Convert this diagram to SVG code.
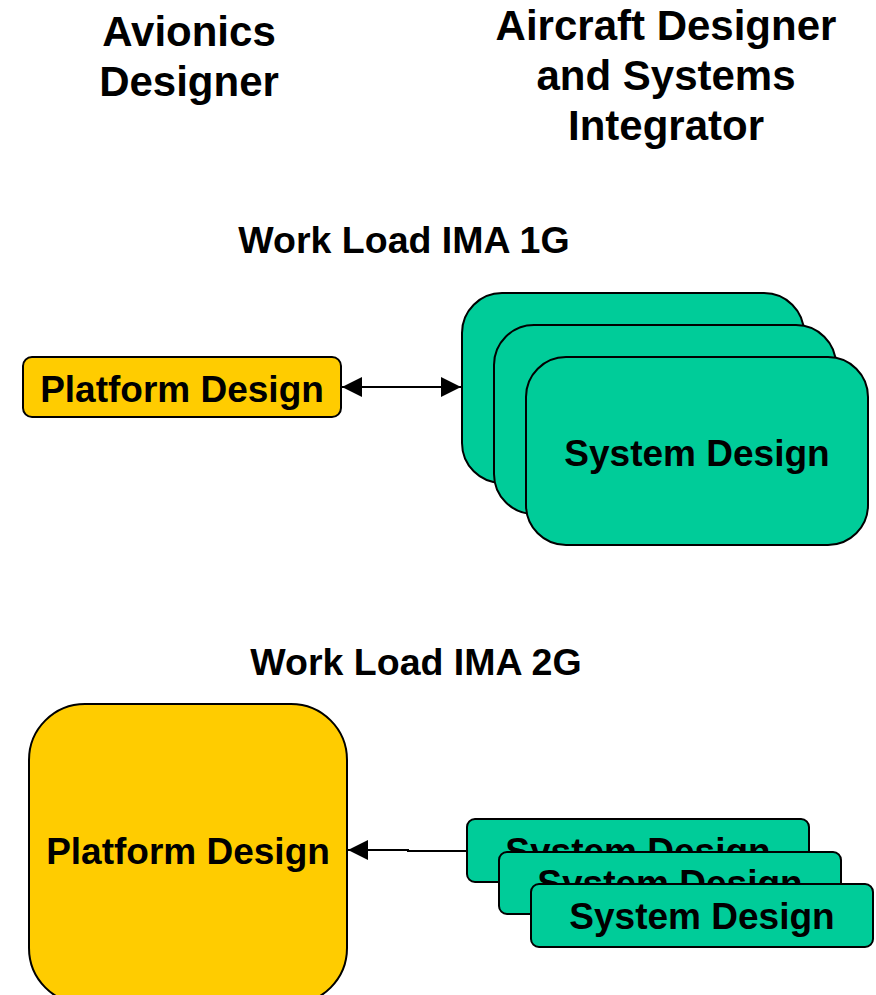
<svg xmlns="http://www.w3.org/2000/svg" width="876" height="995" viewBox="0 0 876 995">
<defs>
<style>
text{font-family:"Liberation Sans",Arial,sans-serif;font-weight:bold;fill:#000;text-anchor:middle}
.t{font-size:42px}
.w{font-size:37.5px}
.l{font-size:37px}
.y{fill:#FFCC00;stroke:#000;stroke-width:2}
.g{fill:#00CC99;stroke:#000;stroke-width:2}
.c{stroke:#000;stroke-width:2;fill:none}
</style>
<marker id="ah" viewBox="0 0 10 10" refX="10" refY="5" markerWidth="20" markerHeight="20" markerUnits="userSpaceOnUse" orient="auto-start-reverse">
<path d="M0,0 L10,5 L0,10 Z" fill="#000"/>
</marker>
</defs>
<g id="title-avionics">
<text class="t" x="189" y="46">Avionics</text>
<text class="t" x="189" y="96">Designer</text>
</g>
<g id="title-aircraft">
<text class="t" x="666" y="40">Aircraft Designer</text>
<text class="t" x="666" y="90">and Systems</text>
<text class="t" x="666" y="140">Integrator</text>
</g>
<g id="label-1g"><text class="w" x="404" y="253">Work Load IMA 1G</text></g>
<g id="label-2g"><text class="w" x="416" y="675">Work Load IMA 2G</text></g>
<g id="platform-1g">
<rect class="y" x="23" y="357" width="318" height="60" rx="9"/>
<text class="l" x="182" y="402">Platform Design</text>
</g>
<g id="system-1g-a"><rect class="g" x="462" y="293" width="342" height="190" rx="40"/></g>
<g id="system-1g-b"><rect class="g" x="494" y="325" width="342" height="189" rx="40"/></g>
<g id="system-1g-c">
<rect class="g" x="526" y="357" width="342" height="188" rx="40"/>
<text class="l" x="697" y="466">System Design</text>
</g>
<g id="platform-2g">
<rect class="y" x="29" y="704" width="318" height="300" rx="56"/>
<text class="l" x="188" y="864">Platform Design</text>
</g>
<g id="system-2g-a">
<rect class="g" x="467" y="819" width="342" height="63" rx="8"/>
<text class="l" x="638" y="864">System Design</text>
</g>
<g id="system-2g-b">
<rect class="g" x="499" y="852" width="342" height="62" rx="8"/>
<text class="l" x="670" y="896">System Design</text>
</g>
<g id="system-2g-c">
<rect class="g" x="531" y="884" width="342" height="63" rx="8"/>
<text class="l" x="702" y="929">System Design</text>
</g>
<g id="connectors">
<line class="c" x1="342" y1="387" x2="461" y2="387" marker-start="url(#ah)" marker-end="url(#ah)"/>
<polyline class="c" points="466,851 408,851 408,850 348,850" marker-end="url(#ah)"/>
</g>
</svg>
